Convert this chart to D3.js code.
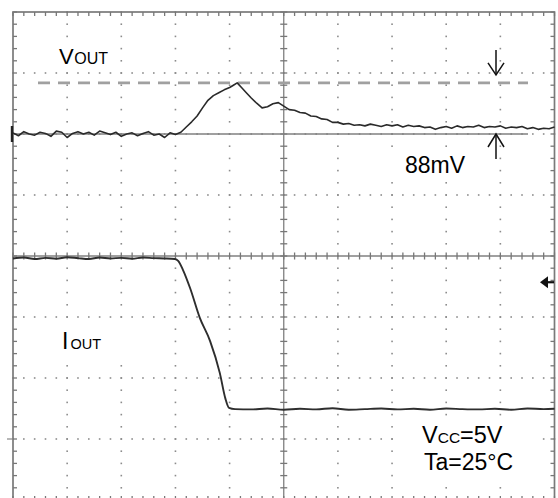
<!DOCTYPE html>
<html lang="en">
<head>
    <meta charset="UTF-8">
    <title>Load transient</title>
    <script src="https://d3js.org/d3.v7.min.js"></script>
    <style>
        body { margin: 0; background: #fff; }
        text { font-family: "Liberation Sans", Arial, sans-serif; fill: #000; }
    </style>
</head>
<body>
    <svg width="558" height="498">
        <g class="grid"></g>
        <g class="cursors"></g>
        <g class="traces"></g>
        <g class="labels"></g>
    </svg>
    <script>
        // VOUT deviation (mV), time in divisions
        var voutTime = [0, 0.1, 0.2, 0.3, 0.4, 0.5, 0.6, 0.7, 0.8, 0.9, 1.0, 1.1, 1.2, 1.3, 1.4, 1.5,
            1.6, 1.7, 1.8, 1.9, 2.0, 2.1, 2.2, 2.3, 2.4, 2.5, 2.6, 2.7, 2.8, 2.9, 3.0, 3.1,
            3.2, 3.3, 3.4, 3.5, 3.6, 3.7, 3.8, 3.9, 4.0, 4.07, 4.14, 4.22, 4.3, 4.4, 4.5, 4.6,
            4.7, 4.8, 4.9, 5.0, 5.1, 5.2, 5.3, 5.4, 5.5, 5.6, 5.7, 5.8, 5.9, 6.0, 6.1, 6.2,
            6.3, 6.4, 6.5, 6.6, 6.7, 6.8, 6.9, 7.0, 7.1, 7.2, 7.3, 7.4, 7.5, 7.6, 7.7, 7.8,
            7.9, 8.0, 8.1, 8.2, 8.3, 8.4, 8.5, 8.6, 8.7, 8.8, 8.9, 9.0, 9.1, 9.2, 9.3, 9.4,
            9.5, 9.6, 9.7, 9.8, 9.9, 10.0];
        var voutMv = [2, -3, 4, 0, -2, 3, 1, -4, 5, 3, -6, 1, 4, 0, 3, -2,
            5, 2, -1, 3, -4, 0, 2, -3, 1, 4, -2, 0, -6, 2, -1, 3,
            12, 21, 31, 45, 58, 66, 71, 76, 80, 84, 88, 80, 72, 62, 53, 45,
            47, 52, 54, 48, 42, 41, 37, 36, 31, 30, 26, 25, 20, 20, 17, 18,
            15, 16, 14, 17, 15, 13, 16, 14, 16, 12, 15, 13, 14, 11, 12, 8,
            11, 13, 10, 14, 11, 13, 12, 15, 11, 13, 12, 14, 10, 12, 11, 13,
            9, 11, 8, 10, 9, 12];

        // IOUT (mA)
        var ioutTime = [0, 0.2, 0.4, 0.6, 0.8, 1.0, 1.2, 1.4, 1.6, 1.8, 2.0, 2.2, 2.4, 2.6, 2.8,
            2.99, 3.05, 3.14, 3.27, 3.45, 3.64, 3.82, 3.92, 3.99, 4.1,
            4.4, 4.7, 5.0, 5.3, 5.6, 5.9, 6.2, 6.5, 6.8, 7.1, 7.4, 7.7, 8.0, 8.3, 8.6, 8.9,
            9.2, 9.5, 9.8, 10.0];
        var ioutMa = [592, 595, 590, 594, 591, 596, 593, 590, 595, 592, 594, 591, 595, 593, 592,
            590, 584, 554, 495, 397, 321, 216, 134, 102, 98,
            97, 100, 96, 99, 97, 101, 96, 98, 100, 97, 99, 96, 100, 98, 97, 99,
            96, 100, 98, 99];

        var cursorMv = [0, 88];
        var deltaLabel = "88mV";
        var conditions = ["5V", "25°C"];

        // screen settings
        var vPerDiv = 105, vOffsetDiv = 2;     // CH1
        var iPerDiv = 200, iOffsetDiv = -3;    // CH2

        var x = d3.scaleLinear().domain([0, 10]).range([13, 554.5]);
        var y = d3.scaleLinear().domain([-4, 4]).range([500, 12]);
        var yV = function(mv) { return y(vOffsetDiv + mv / vPerDiv); };
        var yI = function(ma) { return y(iOffsetDiv + ma / iPerDiv); };

        var grid = d3.select("svg g.grid");
        var gridColor = "#8c8c8c";

        // dotted graticule
        var dots = [];
        d3.range(1, 10).filter(function(i) { return i != 5; }).forEach(function(i) {
            d3.range(-4, 4.01, 0.2).forEach(function(v) { dots.push([i, v]); });
        });
        d3.range(-3, 4).filter(function(j) { return j != 0; }).forEach(function(j) {
            d3.range(0, 10.01, 0.2).forEach(function(t) { dots.push([t, j]); });
        });
        grid.selectAll("rect.dot")
            .data(dots)
            .join("rect")
            .classed("dot", true)
            .attr("x", function(d) { return x(d[0]) - 0.8; })
            .attr("y", function(d) { return y(d[1]) - 0.8; })
            .attr("width", 1.6)
            .attr("height", 1.6)
            .style("fill", gridColor);

        // frame
        grid.append("rect")
            .attr("x", x(0)).attr("y", y(4))
            .attr("width", x(10) - x(0)).attr("height", y(-4) - y(4))
            .style("fill", "none").style("stroke", "#7a7a7a").style("stroke-width", 1.7);

        // center axes
        grid.append("line").attr("x1", x(0)).attr("x2", x(10)).attr("y1", y(0)).attr("y2", y(0))
            .style("stroke", "#808080").style("stroke-width", 1.3);
        grid.append("line").attr("x1", x(5)).attr("x2", x(5)).attr("y1", y(4)).attr("y2", y(-4))
            .style("stroke", "#808080").style("stroke-width", 1.3);

        // minor ticks on axes and frame
        var tx = d3.range(0, 10.01, 0.2), ty = d3.range(-4, 4.01, 0.2);
        var ticks = [];
        tx.forEach(function(t) {
            ticks.push([x(t), y(0) - 3.5, x(t), y(0) + 3.5]);
            ticks.push([x(t), y(4), x(t), y(4) + 4]);
            ticks.push([x(t), y(-4), x(t), y(-4) - 4]);
        });
        ty.forEach(function(v) {
            ticks.push([x(5) - 3.5, y(v), x(5) + 3.5, y(v)]);
            ticks.push([x(0), y(v), x(0) + 4, y(v)]);
            ticks.push([x(10), y(v), x(10) - 4, y(v)]);
        });
        grid.selectAll("line.tick")
            .data(ticks)
            .join("line")
            .classed("tick", true)
            .attr("x1", function(d) { return d[0]; })
            .attr("y1", function(d) { return d[1]; })
            .attr("x2", function(d) { return d[2]; })
            .attr("y2", function(d) { return d[3]; })
            .style("stroke", "#777")
            .style("stroke-width", 1.3);

        // white boxes behind labels
        var boxes = [[27, 38, 91, 30], [47, 323, 78, 33], [388, 148, 97, 34], [402, 416, 138, 68]];
        grid.selectAll("rect.box")
            .data(boxes)
            .join("rect")
            .classed("box", true)
            .attr("x", function(d) { return d[0]; })
            .attr("y", function(d) { return d[1]; })
            .attr("width", function(d) { return d[2]; })
            .attr("height", function(d) { return d[3]; })
            .style("fill", "#fff");

        // cursors
        var cur = d3.select("svg g.cursors");
        cur.append("line")
            .attr("x1", 38).attr("x2", 528)
            .attr("y1", yV(cursorMv[1])).attr("y2", yV(cursorMv[1]))
            .style("stroke", "#a0a0a0").style("stroke-width", 2.6)
            .style("stroke-dasharray", "12,8");
        cur.append("line")
            .attr("x1", 12).attr("x2", 528)
            .attr("y1", yV(cursorMv[0])).attr("y2", yV(cursorMv[0]))
            .style("stroke", "#808080").style("stroke-width", 1.5);

        // traces
        var tr = d3.select("svg g.traces");
        var vLine = d3.line()
            .x(function(d, i) { return x(voutTime[i]); })
            .y(function(d) { return yV(d); });
        tr.append("path")
            .datum(voutMv)
            .attr("d", vLine)
            .style("fill", "none").style("stroke", "#2a2a2a").style("stroke-width", 1.6)
            .style("stroke-linejoin", "round");

        var iLine = d3.line()
            .x(function(d, i) { return x(ioutTime[i]); })
            .y(function(d) { return yI(d); })
            .curve(d3.curveMonotoneX);
        tr.append("path")
            .datum(ioutMa)
            .attr("d", iLine)
            .style("fill", "none").style("stroke", "#2e2e2e").style("stroke-width", 1.9)
            .style("stroke-linejoin", "round");

        // channel markers
        tr.append("line").attr("x1", 12).attr("x2", 12)
            .attr("y1", yV(0) - 8).attr("y2", yV(0) + 8)
            .style("stroke", "#222").style("stroke-width", 2.4);
        tr.append("line").attr("x1", 7).attr("x2", 13)
            .attr("y1", yI(0)).attr("y2", yI(0))
            .style("stroke", "#888").style("stroke-width", 1.2);
        // trigger level marker
        var trig = y(-0.43);
        tr.append("path")
            .attr("d", "M540," + trig + "l8,-6v12z")
            .style("fill", "#111");
        tr.append("line").attr("x1", 546).attr("x2", 554).attr("y1", trig).attr("y2", trig)
            .style("stroke", "#111").style("stroke-width", 2.2);

        // delta arrows
        var ax = 496;
        var topY = yV(cursorMv[1]), botY = yV(cursorMv[0]);
        var arrows = tr.append("g").style("stroke", "#111").style("stroke-width", 1.5).style("fill", "none");
        arrows.append("line").attr("x1", ax).attr("x2", ax).attr("y1", topY - 33).attr("y2", topY - 8);
        arrows.append("path").attr("d", "M" + (ax - 8) + "," + (topY - 20) + "L" + ax + "," + (topY - 8) + "L" + (ax + 8) + "," + (topY - 20));
        arrows.append("line").attr("x1", ax).attr("x2", ax).attr("y1", botY + 25).attr("y2", botY);
        arrows.append("path").attr("d", "M" + (ax - 8) + "," + (botY + 13) + "L" + ax + "," + botY + "L" + (ax + 8) + "," + (botY + 13));

        // labels
        var lab = d3.select("svg g.labels");
        var vo = lab.append("text").attr("x", 59).attr("y", 64).style("font-size", "22px");
        vo.append("tspan").text("V");
        vo.append("tspan").style("font-size", "16px").attr("dx", 0.5).text("OUT");

        var io = lab.append("text").attr("x", 62).attr("y", 349).style("font-size", "23px");
        io.append("tspan").text("I");
        io.append("tspan").style("font-size", "14.5px").attr("dx", 2).text("OUT");

        lab.append("text").attr("x", 405).attr("y", 173).style("font-size", "23px").text(deltaLabel);

        var vc = lab.append("text").attr("x", 422).attr("y", 443).style("font-size", "23.5px");
        vc.append("tspan").text("V");
        vc.append("tspan").style("font-size", "15.5px").text("CC");
        vc.append("tspan").text("=" + conditions[0]);
        lab.append("text").attr("x", 424).attr("y", 470).style("font-size", "23px").text("Ta=" + conditions[1]);
    </script>
</body>
</html>
